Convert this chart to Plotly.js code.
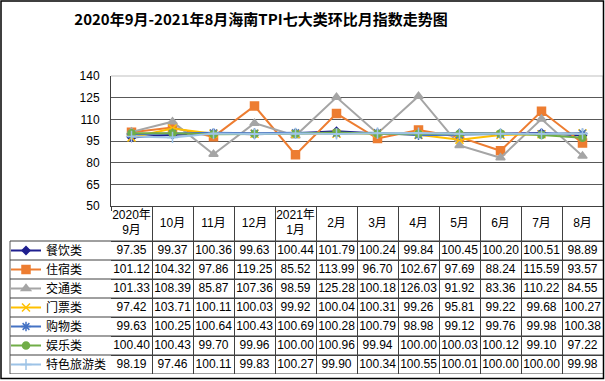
<!DOCTYPE html>
<html>
<head>
<meta charset="utf-8">
<script src="https://cdn.plot.ly/plotly-3.0.1.min.js"></script>
<style>html,body{margin:0;padding:0;background:#fff;}#chart{width:605px;height:381px;}</style>
</head>
<body>
<div id="chart"></div>
<script>
const months = ['2020年9月','10月','11月','12月','2021年1月','2月','3月','4月','5月','6月','7月','8月'];
const monthHeaders = ['2020年<br>9月','10月','11月','12月','2021年<br>1月','2月','3月','4月','5月','6月','7月','8月'];
const seriesNames = ['餐饮类','住宿类','交通类','门票类','购物类','娱乐类','特色旅游类'];
const canyin   = [97.35, 99.37, 100.36, 99.63, 100.44, 101.79, 100.24, 99.84, 100.45, 100.20, 100.51, 98.89];
const zhusu    = [101.12, 104.32, 97.86, 119.25, 85.52, 113.99, 96.70, 102.67, 97.69, 88.24, 115.59, 93.57];
const jiaotong = [101.33, 108.39, 85.87, 107.36, 98.59, 125.28, 100.18, 126.03, 91.92, 83.36, 110.22, 84.55];
const menpiao  = [97.42, 103.71, 100.11, 100.03, 99.92, 100.04, 100.31, 99.26, 95.81, 99.22, 99.68, 100.27];
const gouwu    = [99.63, 100.25, 100.64, 100.43, 100.69, 100.28, 100.79, 98.98, 99.12, 99.76, 99.98, 100.38];
const yule     = [100.40, 100.43, 99.70, 99.96, 100.00, 100.96, 99.94, 100.00, 100.03, 100.12, 99.10, 97.22];
const tese     = [98.19, 97.46, 100.11, 99.83, 100.27, 99.90, 100.34, 100.55, 100.01, 100.00, 100.00, 99.98];

const seriesData = [canyin, zhusu, jiaotong, menpiao, gouwu, yule, tese];
const colors = ['#1f1f8f', '#ed7d31', '#a5a5a5', '#ffc000', '#4472c4', '#70ad47', '#9dc3e6'];
const symbols = ['diamond', 'square', 'triangle-up', 'x-thin-open', 'asterisk-open', 'circle', 'cross-thin-open'];
const sizes = [6, 8, 8, 8, 8, 7, 8];

const W = 605, H = 381;
const px = v => v / W;
const py = v => 1 - v / H;
const lineCol = '#404040';
const tableFont = {family: 'Liberation Sans, Noto Sans CJK SC', size: 12, color: '#000'};

const traces = seriesNames.map((name, i) => ({
  type: 'scatter',
  mode: 'lines+markers',
  name: name,
  x: months,
  y: seriesData[i],
  line: {color: colors[i], width: 2},
  marker: {symbol: symbols[i], size: sizes[i], color: colors[i], line: {color: colors[i], width: 1.5}},
  xaxis: 'x', yaxis: 'y',
  cliponaxis: false
}));

// Data table drawn on its own axes: columns = month index, rows = series index
const headerRows = 35 / 19;
traces.push({
  type: 'scatter', mode: 'text', showlegend: false,
  x: months.map((m, j) => j),
  y: months.map(() => -headerRows / 2),
  text: monthHeaders,
  textposition: 'middle center',
  textfont: tableFont,
  xaxis: 'x2', yaxis: 'y2', cliponaxis: false
});
const cellX = [], cellY = [], cellText = [];
seriesData.forEach((s, i) => s.forEach((v, j) => {
  cellX.push(j); cellY.push(i + 0.5); cellText.push(v.toFixed(2));
}));
traces.push({
  type: 'scatter', mode: 'text', showlegend: false,
  x: cellX, y: cellY, text: cellText,
  textposition: 'middle center',
  textfont: tableFont,
  xaxis: 'x2', yaxis: 'y2', cliponaxis: false
});

const boundaries = [-0.5].concat(months.map((m, j) => j + 0.5));
const rowLines = [0].concat(seriesNames.map((n, i) => i + 1));

const shapes = [
  {type: 'line', xref: 'x domain', yref: 'y domain', x0: 0, x1: 1, y0: 1, y1: 1, line: {color: '#bfbfbf', width: 1}, layer: 'above'},
  {type: 'line', xref: 'x domain', yref: 'y domain', x0: 1, x1: 1, y0: 0, y1: 1, line: {color: '#bfbfbf', width: 1}, layer: 'above'},
  {type: 'rect', xref: 'paper', yref: 'paper', x0: px(1), x1: px(603.5), y0: py(378.5), y1: py(1), line: {color: '#000', width: 1.5}, layer: 'above'},
  // legend column box
  {type: 'line', xref: 'paper', yref: 'y2', x0: px(10), x1: px(10), y0: 0, y1: seriesNames.length, line: {color: '#595959', width: 1}}
];
rowLines.forEach(r => shapes.push({type: 'line', xref: 'paper', yref: 'y2', x0: px(10), x1: px(603), y0: r, y1: r, line: {color: lineCol, width: 1}}));

const layout = {
  width: W, height: H,
  margin: {l: 0, r: 0, t: 0, b: 0},
  paper_bgcolor: 'white', plot_bgcolor: 'rgba(0,0,0,0)',
  font: {family: 'Liberation Sans, Noto Sans CJK SC', size: 12, color: '#000'},
  title: {
    text: '<b>2020年9月-2021年8月海南TPI七大类环比月指数走势图</b>',
    x: px(261), xanchor: 'center', xref: 'paper',
    y: py(20), yanchor: 'middle', yref: 'container',
    font: {family: 'Noto Sans CJK SC', size: 15, color: '#000'}
  },
  xaxis: {
    domain: [px(111), px(603)],
    type: 'category',
    range: [-0.5, 11.5],
    showticklabels: false,
    showline: true, linecolor: lineCol, linewidth: 1,
    ticks: 'outside', tickson: 'boundaries', ticklen: 4, tickcolor: lineCol,
    showgrid: false, zeroline: false, fixedrange: true
  },
  yaxis: {
    domain: [py(206), py(76)],
    range: [50, 140],
    tick0: 50, dtick: 15,
    showgrid: true, gridcolor: '#595959', gridwidth: 1,
    showline: true, linecolor: lineCol, linewidth: 1,
    zeroline: false, ticks: '',
    ticklabelstandoff: 8,
    tickfont: {family: 'Liberation Sans', size: 12, color: '#000'},
    fixedrange: true
  },
  xaxis2: {
    domain: [px(111), px(603)], anchor: 'y2',
    range: [-0.5, 11.5],
    tickmode: 'array', tickvals: boundaries,
    showgrid: true, gridcolor: lineCol, gridwidth: 1,
    showticklabels: false, ticks: '', showline: false, zeroline: false, fixedrange: true
  },
  yaxis2: {
    domain: [py(374), py(206)], anchor: 'x2',
    range: [seriesNames.length, -headerRows],
    tickmode: 'array', tickvals: rowLines,
    showgrid: true, gridcolor: lineCol, gridwidth: 1,
    showticklabels: false, ticks: '', showline: false, zeroline: false, fixedrange: true
  },
  showlegend: true,
  legend: {
    x: px(6), xanchor: 'left', xref: 'paper',
    y: py(236), yanchor: 'top', yref: 'paper',
    bgcolor: 'rgba(0,0,0,0)', borderwidth: 0,
    font: {family: 'Noto Sans CJK SC', size: 12, color: '#000'},
    tracegroupgap: 0
  },
  shapes: shapes
};

Plotly.newPlot('chart', traces, layout, {displayModeBar: false, staticPlot: true});
</script>
</body>
</html>
